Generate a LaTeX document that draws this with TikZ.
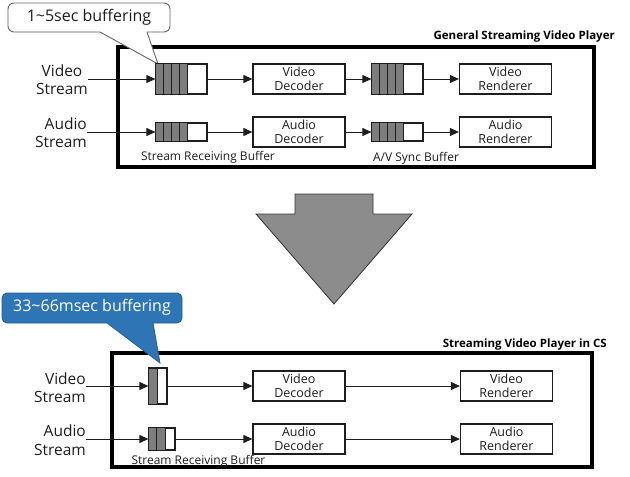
\documentclass[tikz,border=0pt]{standalone}
\usepackage{fontspec}
\setmainfont{Open Sans}
\usetikzlibrary{arrows.meta}
\definecolor{cellgray}{RGB}{125,125,125}
\definecolor{arrowgray}{RGB}{140,140,140}
\definecolor{calloutblue}{RGB}{46,117,182}
\definecolor{txt}{RGB}{30,30,30}
\begin{document}
\begin{tikzpicture}[x=1pt,y=-1pt,
  box/.style={draw=txt, line width=1.2pt, fill=white, minimum width=92pt, minimum height=30pt, inner sep=0pt, align=center, text=txt, font=\fontsize{12.5}{13.5}\selectfont},
  buf/.style={draw=txt, line width=1.2pt, fill=white, inner sep=0pt},
  frame/.style={draw=black, line width=3.5pt},
  conn/.style={draw=txt, line width=1pt, -{Triangle[length=9pt,width=8pt]}},
  streamlbl/.style={text=txt, font=\fontsize{15.5}{18.5}\selectfont, inner sep=0pt},
  sublbl/.style={text=txt, font=\fontsize{12}{13}\selectfont, inner sep=0pt},
  title/.style={text=black, font=\bfseries\fontsize{11.5}{12}\selectfont, inner sep=0pt, anchor=east},
  cell/.style={fill=cellgray, draw=txt, line width=0.9pt}
]
\useasboundingbox (0,0) rectangle (630,477);

% ===== Top: General Streaming Video Player =====
\draw[frame] (118,47) rectangle (594,167);
\node[title] (t1) at (615,37) {General Streaming Video Player};

% callout 1
\draw[draw=gray!80!black, line width=0.9pt, fill=white]
  (147,32) [rounded corners=6pt] -- (170,32) -- (170,3) -- (8,3) -- (8,32)
  [sharp corners] -- (100,32) -- (158,64) -- cycle;
\node[text=txt, font=\fontsize{16}{18}\selectfont, inner sep=0pt] (c1) at (89,17.5) {1\textasciitilde 5sec buffering};

% stream labels
\node[streamlbl, align=center] (vs1) at (62,79.5) {Video\\Stream};
\node[streamlbl, align=right, anchor=east] (as1) at (87,132.5) {Audio\\Stream};

% buffers
\node[buf, minimum width=51pt, minimum height=30pt] (vb1) at (181.5,79) {};
\node[buf, minimum width=51pt, minimum height=18pt] (ab1) at (181.5,132) {};
\node[buf, minimum width=51pt, minimum height=30pt] (vs1b) at (397.5,79) {};
\node[buf, minimum width=51pt, minimum height=18pt] (as1b) at (397.5,132) {};
\foreach \b in {vb1,ab1,vs1b,as1b}{
  \foreach \i in {0,1,2,3}{
    \draw[cell] ([xshift=\i*8pt]\b.north west) rectangle ([xshift=\i*8pt+8pt]\b.south west);
  }
  \draw[draw=txt, line width=1.2pt] (\b.north west) rectangle (\b.south east);
}

% boxes
\node[box] (vd1) at (299,79) {Video\\Decoder};
\node[box] (ad1) at (299,132) {Audio\\Decoder};
\node[box] (vr1) at (505.5,79) {Video\\Renderer};
\node[box] (ar1) at (505.5,132) {Audio\\Renderer};

% connectors
\draw[conn] (vs1.east |- vb1.west) -- (vb1.west);
\draw[conn] (as1.east |- ab1.west) -- (ab1.west);
\draw[conn] (vb1.east) -- (vd1.west);
\draw[conn] (ab1.east) -- (ad1.west);
\draw[conn] (vd1.east) -- (vs1b.west);
\draw[conn] (ad1.east) -- (as1b.west);
\draw[conn] (vs1b.east) -- (vr1.west);
\draw[conn] (as1b.east) -- (ar1.west);

\node[sublbl] (srb1) at (208,157) {Stream Receiving Buffer};
\node[sublbl] (avs1) at (416,158) {A/V Sync Buffer};

% ===== Big arrow =====
\draw[draw=gray!40!black, line width=0.8pt, fill=arrowgray]
  (295,194) -- (373,194) -- (373,214) -- (412,214) -- (334,304) -- (256,214) -- (295,214) -- cycle;

% ===== Bottom: Streaming Video Player in CS =====
\draw[frame] (112,353) rectangle (592,467);
\node[title] (t2) at (607,345) {Streaming Video Player in CS};

% callout 2
\draw[draw=calloutblue!80!black, line width=0.8pt, fill=calloutblue]
  (153,323) [rounded corners=5pt] -- (182,323) -- (182,293) -- (2,293) -- (2,323)
  [sharp corners] -- (107,323) -- (160,363) -- cycle;
\node[text=white, font=\fontsize{16}{18}\selectfont, inner sep=0pt] (c2) at (92,307.5) {33\textasciitilde 66msec buffering};

\node[streamlbl, align=right, anchor=east] (vs2) at (86,387.5) {Video\\Stream};
\node[streamlbl, align=right, anchor=east] (as2) at (86,440) {Audio\\Stream};

\node[buf, minimum width=18pt, minimum height=35pt] (vb2) at (158,386) {};
\node[buf, minimum width=26pt, minimum height=22pt] (ab2) at (162,439) {};
\draw[cell] (vb2.north west) rectangle ([xshift=9pt]vb2.south west);
\draw[draw=txt, line width=1.2pt] (vb2.north west) rectangle (vb2.south east);
\foreach \i in {0,1}{
  \draw[cell] ([xshift=\i*8.5pt]ab2.north west) rectangle ([xshift=\i*8.5pt+8.5pt]ab2.south west);
}
\draw[draw=txt, line width=1.2pt] (ab2.north west) rectangle (ab2.south east);

\node[box] (vd2) at (299,386) {Video\\Decoder};
\node[box] (ad2) at (299,439) {Audio\\Decoder};
\node[box] (vr2) at (506.5,386) {Video\\Renderer};
\node[box] (ar2) at (506.5,439) {Audio\\Renderer};

\draw[conn] (vs2.east |- vb2.west) -- (vb2.west);
\draw[conn] (as2.east |- ab2.west) -- (ab2.west);
\draw[conn] (vb2.east) -- (vd2.west);
\draw[conn] (ab2.east) -- (ad2.west);
\draw[conn] (vd2.east) -- (vr2.west);
\draw[conn] (ad2.east) -- (ar2.west);

\node[sublbl] (srb2) at (198.5,461) {Stream Receiving Buffer};
\end{tikzpicture}
\end{document}
